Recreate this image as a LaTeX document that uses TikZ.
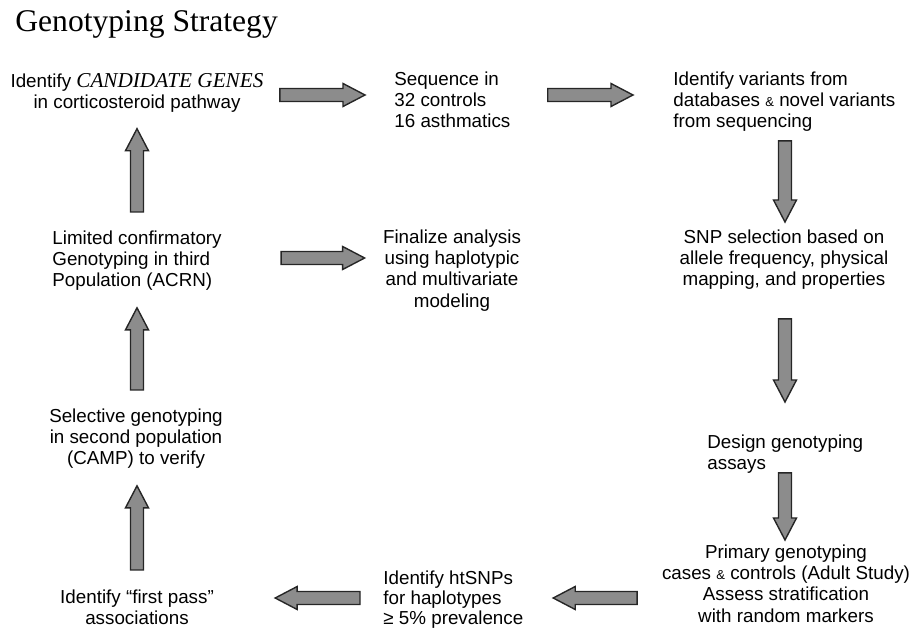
\documentclass[tikz,border=0pt]{standalone}
\usepackage{fontspec}
\setmainfont{Liberation Sans}
\newfontfamily\serifface{Liberation Serif}
\usepackage{tikz}
\usetikzlibrary{calc}
\usepackage{xcolor}
\definecolor{arrowgray}{gray}{0.55}
\definecolor{arrowline}{gray}{0.15}
\newcommand{\smallamp}{{\fontsize{6.5}{6}\selectfont\&}}

\tikzset{
  stage/.style={inner sep=0pt, font=\fontsize{9.4}{10.6}\selectfont},
  blockarrow/.style 2 args={draw=arrowline, fill=arrowgray, line width=0.7pt, line join=miter,
    to path={
      let \p1=($(\tikztostart)!#1!(\tikztotarget)$),
          \p2=($(\tikztotarget)!#2!(\tikztostart)$),
          \p3=($(\p2)!11pt!(\p1)$)
      in ($(\p1)!3.25pt!90:(\p2)$) -- ($(\p3)!3.25pt!90:(\p2)$)
         -- ($(\p3)!5.75pt!90:(\p2)$) -- (\p2)
         -- ($(\p3)!5.75pt!-90:(\p2)$) -- ($(\p3)!3.25pt!-90:(\p2)$)
         -- ($(\p1)!3.25pt!-90:(\p2)$) -- cycle
    }}
}

\begin{document}
\begin{tikzpicture}[x=0.5pt, y=-0.5pt]
  \useasboundingbox (0,0) rectangle (911,630);

  \node[anchor=base west, inner sep=0pt, font=\serifface\fontsize{15.8}{18}\selectfont]
    (title) at (15,32) {Genotyping Strategy};

  % rows and columns of the arrows
  \coordinate (rowtop) at (0,95);
  \coordinate (rowmid) at (0,258);
  \coordinate (rowbot) at (0,598);
  \coordinate (colL) at (137,0);
  \coordinate (colR) at (785,0);

  \node[stage, anchor=north, align=center] (cand) at (137,73)
    {Identify {\serifface\itshape\fontsize{10.6}{10.6}\selectfont CANDIDATE GENES}\\in corticosteroid pathway};
  \node[stage, anchor=north west, align=left] (seq) at (394,71.5)
    {Sequence in\\32 controls\\16 asthmatics};
  \node[stage, anchor=north west, align=left] (var) at (673,71.5)
    {Identify variants from\\databases \smallamp{} novel variants\\from sequencing};
  \node[stage, anchor=north west, align=left] (lim) at (52,230.5)
    {Limited confirmatory\\Genotyping in third\\Population (ACRN)};
  \node[stage, anchor=north, align=center] (fin) at (452,229.5)
    {Finalize analysis\\using haplotypic\\and multivariate\\modeling};
  \node[stage, anchor=north, align=center] (snp) at (784,229.5)
    {SNP selection based on\\allele frequency, physical\\mapping, and properties};
  \node[stage, anchor=north, align=center] (sel) at (136,408.5)
    {Selective genotyping\\in second population\\(CAMP) to verify};
  \node[stage, anchor=north west, align=left] (des) at (707,434.5)
    {Design genotyping\\assays};
  \node[stage, anchor=north, align=center] (prim) at (786,544.5)
    {Primary genotyping\\cases \smallamp{} controls (Adult Study)\\Assess stratification\\with random markers};
  \node[stage, anchor=north west, align=left, font=\fontsize{9.4}{10}\selectfont] (ht) at (383,570)
    {Identify htSNPs\\for haplotypes\\≥ 5\% prevalence};
  \node[stage, anchor=north, align=center] (first) at (137,589.5)
    {Identify “first pass”\\associations};

  % top row
  \draw[blockarrow={8pt}{14.5pt}] (cand.east |- rowtop) to (seq.west |- rowtop);
  \draw[blockarrow={18.5pt}{20pt}] (seq.east |- rowtop) to (var.west |- rowtop);
  % right column
  \draw[blockarrow={4.3pt}{3.75pt}] (var.south -| colR) to (snp.north -| colR);
  \draw[blockarrow={14.3pt}{16.25pt}] (snp.south -| colR) to (des.north -| colR);
  \draw[blockarrow={-0.6pt}{2.25pt}] (des.south -| colR) to (prim.north -| colR);
  % bottom row
  \draw[blockarrow={12.25pt}{14.75pt}] (prim.west |- rowbot) to (ht.east |- rowbot);
  \draw[blockarrow={11.5pt}{30.5pt}] (ht.west |- rowbot) to (first.east |- rowbot);
  % left column
  \draw[blockarrow={9.75pt}{8.3pt}] (first.north -| colL) to (sel.south -| colL);
  \draw[blockarrow={9.25pt}{8.3pt}] (sel.north -| colL) to (lim.south -| colL);
  \draw[blockarrow={9.25pt}{7.9pt}] (lim.north -| colL) to (cand.south -| colL);
  % middle
  \draw[blockarrow={29.5pt}{9pt}] (lim.east |- rowmid) to (fin.west |- rowmid);
\end{tikzpicture}
\end{document}
